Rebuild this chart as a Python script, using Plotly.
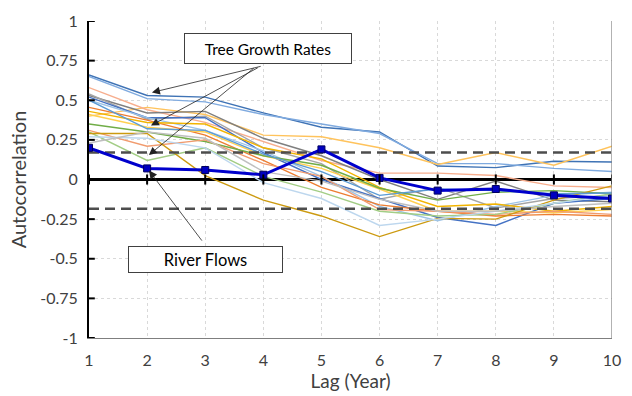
import plotly.graph_objects as go

lags = [1, 2, 3, 4, 5, 6, 7, 8, 9, 10]
y_ticks = [-1, -0.75, -0.5, -0.25, 0, 0.25, 0.5, 0.75, 1]
y_tick_text = ["-1", "-0.75", "-0.5", "-0.25", "0", "0.25", "0.5", "0.75", "1"]

river_flows = [0.20, 0.07, 0.06, 0.03, 0.19, 0.01, -0.07, -0.06, -0.10, -0.12]
upper_bound = 0.17
lower_bound = -0.185

tree_1 = [0.66, 0.53, 0.52, 0.42, 0.33, 0.30, 0.085, 0.075, 0.115, 0.11]
tree_2 = [0.65, 0.51, 0.49, 0.41, 0.35, 0.29, 0.10, 0.10, 0.07, 0.05]
tree_3 = [0.40, 0.455, 0.41, 0.28, 0.27, 0.20, 0.095, 0.17, 0.09, 0.21]
tree_4 = [0.58, 0.44, 0.36, 0.24, 0.12, 0.04, 0.04, 0.025, -0.04, -0.05]
tree_5 = [0.53, 0.42, 0.43, 0.26, 0.15, 0.0, -0.125, -0.01, -0.13, -0.14]
tree_6 = [0.54, 0.38, 0.40, 0.20, 0.10, -0.125, -0.05, -0.18, -0.12, -0.10]
tree_7 = [0.52, 0.39, 0.39, 0.17, 0.0, -0.12, -0.24, -0.29, -0.15, -0.12]
tree_8 = [0.50, 0.39, 0.31, 0.18, 0.02, -0.17, -0.26, -0.17, -0.10, -0.08]
tree_9 = [0.455, 0.375, 0.28, 0.12, -0.05, -0.16, -0.20, -0.23, -0.22, -0.23]
tree_10 = [0.43, 0.36, 0.35, 0.20, 0.13, -0.05, -0.17, -0.155, -0.20, -0.17]
tree_11 = [0.41, 0.33, 0.30, 0.15, 0.07, -0.06, -0.20, -0.20, -0.21, -0.19]
tree_12 = [0.35, 0.30, 0.24, 0.15, 0.09, -0.055, -0.13, -0.08, -0.07, -0.09]
tree_13 = [0.31, 0.21, 0.25, 0.10, 0.02, -0.19, -0.20, -0.22, -0.20, -0.22]
tree_14 = [0.30, 0.12, 0.20, 0.02, -0.08, -0.20, -0.23, -0.22, -0.15, -0.09]
tree_15 = [0.29, 0.29, 0.025, -0.13, -0.23, -0.36, -0.245, -0.25, -0.13, -0.04]
tree_16 = [0.27, 0.26, 0.20, -0.02, -0.12, -0.29, -0.25, -0.20, -0.15, -0.10]
tree_17 = [0.23, 0.30, 0.26, 0.05, -0.01, -0.125, -0.20, -0.20, -0.17, -0.15]
tree_18 = [0.50, 0.32, 0.31, 0.16, 0.05, -0.10, -0.06, -0.07, -0.09, -0.085]

tree_series = [tree_1, tree_2, tree_3, tree_4, tree_5, tree_6, tree_7, tree_8, tree_9,
               tree_10, tree_11, tree_12, tree_13, tree_14, tree_15, tree_16, tree_17, tree_18]
tree_colors = ["#3F73B5", "#7FAADF", "#FFC35C", "#F7AE8E", "#7F7F7F", "#A5A5A5",
               "#4472C4", "#9DC3E6", "#ED7D31", "#F2B400", "#FFD050", "#70AD47",
               "#F19B6E", "#A2CD85", "#CC9A10", "#BDD7EE", "#BFBFBF", "#5B9BD5"]

FONT = "Lato, Open Sans, sans-serif"

fig = go.Figure()

for vals, col in zip(tree_series, tree_colors):
    fig.add_trace(go.Scatter(x=lags, y=vals, mode="lines",
                             line=dict(color=col, width=1.4), showlegend=False,
                             hoverinfo="skip"))

fig.add_trace(go.Scatter(x=lags, y=[upper_bound] * len(lags), mode="lines",
                         line=dict(color="#4D4D4D", width=2.5, dash="10px,6px"),
                         showlegend=False))
fig.add_trace(go.Scatter(x=lags, y=[lower_bound] * len(lags), mode="lines",
                         line=dict(color="#4D4D4D", width=2.5, dash="10px,6px"),
                         showlegend=False))

fig.add_trace(go.Scatter(x=lags, y=river_flows, mode="lines+markers",
                         line=dict(color="#0000CC", width=3),
                         marker=dict(symbol="square", size=7, color="#0000C0",
                                     line=dict(color="#000060", width=1)),
                         showlegend=False))

shapes = []
for t in y_ticks:
    shapes.append(dict(type="line", xref="x", yref="y", x0=0.9, x1=1.1, y0=t, y1=t,
                       line=dict(color="black", width=2)))
for t in lags:
    shapes.append(dict(type="line", xref="x", yref="y", x0=t, x1=t, y0=-0.032, y1=0.032,
                       line=dict(color="black", width=2)))
shapes.append(dict(type="line", xref="x", yref="y", x0=10, x1=10, y0=-1, y1=1,
                   line=dict(color="#7F7F7F", width=1.2)))

annotations = []
annotations.append(dict(text="Tree Growth Rates", xref="x", yref="y", x=4.08, y=0.824,
                        showarrow=False, font=dict(family=FONT, size=15.5, color="black"),
                        bgcolor="white", bordercolor="#404040", borderwidth=1,
                        width=166, height=29, borderpad=0))
annotations.append(dict(text="River Flows", xref="x", yref="y", x=3.005, y=-0.503,
                        showarrow=False, font=dict(family=FONT, size=16.5, color="black"),
                        bgcolor="white", bordercolor="#404040", borderwidth=1,
                        width=153, height=25, borderpad=0))
arrow_defs = [
    ((3.98, 0.716), (2.083, 0.549)),
    ((3.93, 0.71), (2.066, 0.34)),
    ((3.86, 0.71), (2.03, 0.154)),
    ((2.962, -0.395), (2.032, 0.056)),
]
for (tx, ty), (hx, hy) in arrow_defs:
    annotations.append(dict(text="", x=hx, y=hy, ax=tx, ay=ty, xref="x", yref="y",
                            axref="x", ayref="y", showarrow=True, arrowhead=2,
                            arrowsize=2, arrowwidth=0.8, arrowcolor="#222222",
                            standoff=0))

fig.update_layout(
    width=632, height=396,
    margin=dict(l=89, r=11, t=15, b=57),
    paper_bgcolor="white", plot_bgcolor="white",
    font=dict(family=FONT, size=16, color="#404040"),
    shapes=shapes, annotations=annotations,
    xaxis=dict(range=[1, 10], tickmode="array", tickvals=lags,
               ticktext=[str(v) for v in lags],
               showgrid=True, gridcolor="#D9D9D9", griddash="3px,3px", gridwidth=1,
               showline=True, linecolor="#7F7F7F", linewidth=1.2,
               ticks="", ticklabelstandoff=8, zeroline=False,
               tickfont=dict(family=FONT, size=16, color="#404040"),
               title=dict(text="Lag (Year)", font=dict(family=FONT, size=19, color="#404040"),
                          standoff=2)),
    yaxis=dict(range=[-1, 1], tickmode="array", tickvals=y_ticks, ticktext=y_tick_text,
               showgrid=True, gridcolor="#D9D9D9", griddash="3px,3px", gridwidth=1,
               showline=True, linecolor="black", linewidth=2,
               zeroline=True, zerolinecolor="black", zerolinewidth=2.5,
               ticks="", ticklabelstandoff=6,
               tickfont=dict(family=FONT, size=16, color="#404040"),
               title=dict(text="Autocorrelation", font=dict(family=FONT, size=20, color="#404040"),
                          standoff=8)),
)

fig.write_html("out.html")
